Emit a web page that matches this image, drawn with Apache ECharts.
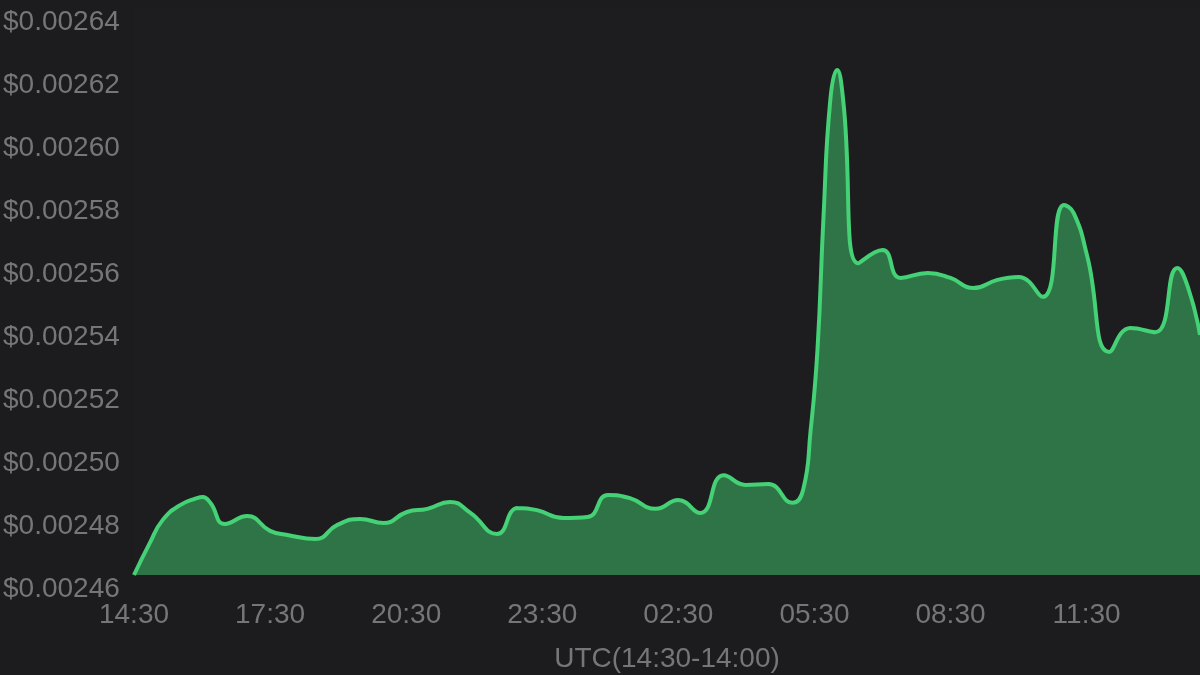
<!DOCTYPE html>
<html>
<head>
<meta charset="utf-8">
<script src="https://cdn.jsdelivr.net/npm/echarts@6/dist/echarts.min.js"></script>
<style>
html,body{margin:0;padding:0;background:#1c1c1e;}
#chart{width:1200px;height:675px;}
</style>
</head>
<body>
<div id="chart"></div>
<script>
// minutes elapsed since 14:30 UTC
const minutes = [0, 21, 38, 61, 83, 91, 101, 120, 150, 180, 203, 240, 269, 299, 330, 361, 388, 418, 445, 480, 508, 533, 568, 600, 627, 656, 690, 720, 749, 780, 809, 839, 871, 885, 895, 904, 912, 921, 930, 938, 958, 990, 1014, 1050, 1080, 1110, 1142, 1170, 1202, 1230, 1243, 1261, 1290, 1318, 1351, 1380, 1394, 1410];
const prices = [0.0024600, 0.0024702, 0.0024775, 0.0024822, 0.0024844, 0.0024848, 0.0024829, 0.0024762, 0.0024787, 0.0024740, 0.0024727, 0.0024714, 0.0024759, 0.0024778, 0.0024765, 0.0024800, 0.0024810, 0.0024832, 0.0024797, 0.0024730, 0.0024813, 0.0024806, 0.0024781, 0.0024784, 0.0024854, 0.0024844, 0.0024810, 0.0024838, 0.0024797, 0.0024917, 0.0024886, 0.0024889, 0.0024829, 0.0024870, 0.0025060, 0.0025314, 0.0025737, 0.0026108, 0.0026203, 0.0026108, 0.0025590, 0.0025632, 0.0025543, 0.0025559, 0.0025543, 0.0025511, 0.0025537, 0.0025546, 0.0025483, 0.0025775, 0.0025749, 0.0025610, 0.0025308, 0.0025384, 0.0025371, 0.0025575, 0.0025514, 0.0025362];
const xTickLabels = ["14:30", "17:30", "20:30", "23:30", "02:30", "05:30", "08:30", "11:30"];
const xTickStep = 180;
const xMax = 1410;
const yMin = 0.00246, yMax = 0.00264, yStep = 0.00002;
const axisName = "UTC(14:30-14:00)";

const chart = echarts.init(document.getElementById('chart'));
const font = "'Liberation Sans', Arial, sans-serif";
const labelColor = '#767676';
chart.setOption({
  backgroundColor: '#1c1c1e',
  animation: false,
  grid: {left: 134, right: 0, top: 8, bottom: 100, show: true, backgroundColor: '#1d1d1f', borderWidth: 0, containLabel: false, outerBoundsMode: 'none'},
  xAxis: {
    type: 'value', min: 0, max: xMax, interval: xTickStep,
    axisLine: {show: false}, axisTick: {show: false}, splitLine: {show: false},
    axisLabel: {
      color: labelColor, fontSize: 28, fontFamily: font, margin: 26, showMaxLabel: false,
      formatter: v => { const i = Math.round(v / xTickStep); return (v % xTickStep === 0 && xTickLabels[i]) ? xTickLabels[i] : ''; }
    },
    name: axisName, nameLocation: 'middle', nameGap: 70,
    nameTextStyle: {color: labelColor, fontSize: 28, fontFamily: font}
  },
  yAxis: {
    type: 'value', min: yMin, max: yMax, interval: yStep,
    axisLine: {show: false}, axisTick: {show: false}, splitLine: {show: false},
    axisLabel: {
      color: labelColor, fontSize: 28, fontFamily: font, align: 'left', margin: 131, verticalAlign: 'top',
      formatter: v => '$' + v.toFixed(5)
    }
  },
  series: [{
    type: 'line',
    data: minutes.map((m, i) => [m, prices[i]]),
    smooth: 0.5,
    showSymbol: false,
    lineStyle: {color: '#45d175', width: 4},
    areaStyle: {color: '#2e7446', opacity: 1},
    z: 2
  }]
});
</script>
</body>
</html>
